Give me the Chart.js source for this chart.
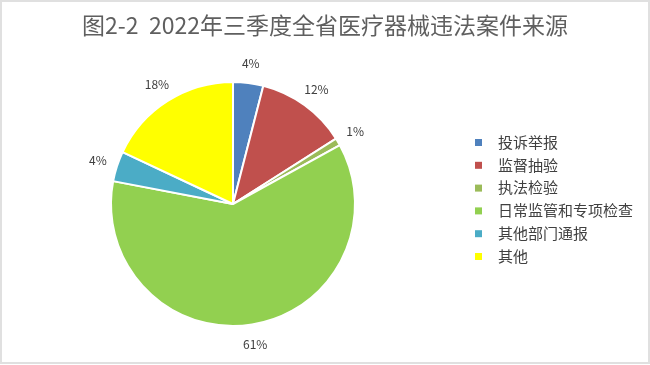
<!DOCTYPE html>
<html lang="zh-CN">
<head>
    <meta charset="UTF-8">
    <title>2022年三季度全省医疗器械违法案件来源</title>
    <script src="https://cdn.jsdelivr.net/npm/chart.js@4.4.0/dist/chart.umd.min.js"></script>
    <style>
        body { margin: 0; background: #fff; }
        .frame {
            position: absolute; left: 0; top: 0;
            width: 646px; height: 360px;
            border: 2px solid #e0e0e0;
        }
        #pieChart { position: absolute; left: 0; top: 0; }
    </style>
</head>
<body>
<div class="frame"></div>
<canvas id="pieChart" width="650" height="365"></canvas>
<script>
    // 数据
    const titleText = '图2-2  2022年三季度全省医疗器械违法案件来源';
    const categories = ['投诉举报', '监督抽验', '执法检验', '日常监管和专项检查', '其他部门通报', '其他'];
    const shares = [4, 12, 1, 61, 4, 18];
    const sliceColors = ['#4F81BD', '#C0504D', '#9BBB59', '#92D050', '#4BACC6', '#FFFF00'];

    const cjk = '"Noto Sans CJK SC", "Noto Sans", sans-serif';

    // 标题、数据标签和图例都用一个插件画
    const decorations = {
        id: 'decorations',
        afterDraw(chart) {
            const ctx = chart.ctx;
            const arcs = chart.getDatasetMeta(0).data;
            ctx.save();

            // 标题
            ctx.fillStyle = '#5f5f5f';
            ctx.font = '23px ' + cjk;
            ctx.textAlign = 'center';
            ctx.textBaseline = 'middle';
            ctx.fillText(titleText, chart.width / 2, 25);

            // 百分比标签，放在扇区外面
            ctx.fillStyle = '#404040';
            ctx.font = '12px ' + cjk;
            arcs.forEach((arc, i) => {
                const mid = (arc.startAngle + arc.endAngle) / 2;
                const r = arc.outerRadius + 20;
                ctx.fillText(shares[i] + '%', arc.x + Math.cos(mid) * r, arc.y + Math.sin(mid) * r);
            });

            // 图例
            const lx = chart.chartArea.right + 119;
            const ly = chart.chartArea.top + 61;
            ctx.font = '15px ' + cjk;
            ctx.textAlign = 'left';
            categories.forEach((name, i) => {
                const y = ly + i * 22.8;
                ctx.fillStyle = sliceColors[i];
                ctx.fillRect(lx, y - 3, 7, 7);
                ctx.fillStyle = '#404040';
                ctx.fillText(name, lx + 23, y);
            });
            ctx.restore();
        }
    };

    new Chart(document.getElementById('pieChart'), {
        type: 'pie',
        data: {
            labels: categories,
            datasets: [{
                data: shares,
                backgroundColor: sliceColors,
                borderColor: '#ffffff',
                borderWidth: 2,
                hoverOffset: 0
            }]
        },
        options: {
            responsive: false,
            animation: false,
            layout: { padding: { top: 81, bottom: 38, left: 110, right: 294 } },
            plugins: {
                legend: { display: false },
                title: { display: false },
                tooltip: { enabled: false }
            }
        },
        plugins: [decorations]
    });
</script>
</body>
</html>
